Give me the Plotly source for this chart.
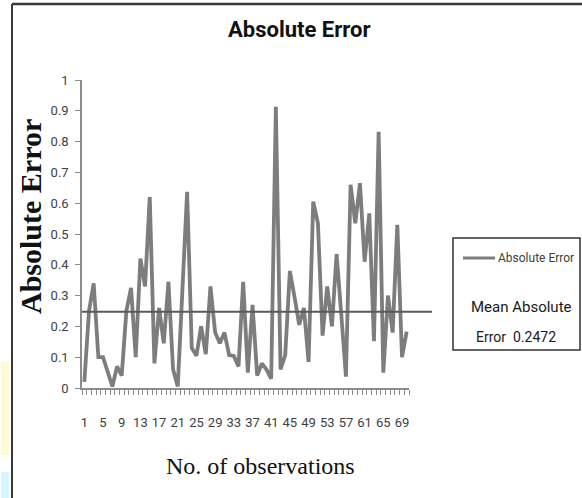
import plotly.graph_objects as go

# ---------------- data ----------------
observations = list(range(1, 71))
absolute_error = [
    0.02, 0.25, 0.34, 0.10, 0.10, 0.05, 0.005, 0.07, 0.04, 0.25,
    0.325, 0.10, 0.42, 0.33, 0.62, 0.08, 0.26, 0.145, 0.345, 0.06,
    0.005, 0.32, 0.637, 0.13, 0.105, 0.20, 0.11, 0.33, 0.18, 0.145,
    0.18, 0.107, 0.104, 0.07, 0.345, 0.05, 0.27, 0.04, 0.08, 0.06,
    0.03, 0.913, 0.06, 0.107, 0.38, 0.295, 0.205, 0.26, 0.085, 0.605,
    0.535, 0.17, 0.33, 0.20, 0.435, 0.24, 0.037, 0.66, 0.535, 0.665,
    0.41, 0.567, 0.152, 0.832, 0.05, 0.30, 0.18, 0.53, 0.10, 0.183,
]
mean_abs_error = 0.2472
x_tick_vals = [1, 5, 9, 13, 17, 21, 25, 29, 33, 37, 41, 45, 49, 53, 57, 61, 65, 69]
x_tick_text = [str(v) for v in x_tick_vals]
y_tick_vals = [0, 0.1, 0.2, 0.3, 0.4, 0.5, 0.6, 0.7, 0.8, 0.9, 1]
y_tick_text = ["0", "0.1", "0.2", "0.3", "0.4", "0.5", "0.6", "0.7", "0.8", "0.9", "1"]

# ---------------- layout geometry (pixels) ----------------
W, H = 582, 498
PL, PR, PT, PB = 82, 409, 80, 388  # plot area edges


def px(x):
    return (x - PL) / (PR - PL)


def py(y):
    return (PB - y) / (PB - PT)


GRAY_AX = "#8c8c8c"
TICK_FONT = dict(family="Roboto, Open Sans, sans-serif", size=13, color="#404040")

fig = go.Figure()
fig.add_trace(go.Scatter(
    x=observations, y=absolute_error, mode="lines",
    line=dict(color="#7d7d7d", width=3.8),
    showlegend=False, hoverinfo="x+y",
))

minor_ticks = [o - 0.5 for o in observations] + [observations[-1] + 0.5]

fig.update_layout(
    width=W, height=H,
    margin=dict(l=PL, r=W - PR, t=PT, b=H - PB, pad=0),
    paper_bgcolor="white", plot_bgcolor="white",
    showlegend=False,
    xaxis=dict(
        range=[0.5, 70.5], showgrid=False, zeroline=False,
        showline=True, linecolor=GRAY_AX, linewidth=1.5,
        tickmode="array", tickvals=x_tick_vals, ticktext=x_tick_text,
        ticks="", tickangle=0, tickfont=TICK_FONT, ticklabelstandoff=22,
        minor=dict(tickmode="array", tickvals=minor_ticks, ticks="outside",
                   ticklen=5, tickwidth=1, tickcolor=GRAY_AX, showgrid=False),
    ),
    yaxis=dict(
        range=[0, 1], showgrid=False, zeroline=False,
        showline=True, linecolor=GRAY_AX, linewidth=1.5,
        tickmode="array", tickvals=y_tick_vals, ticktext=y_tick_text,
        ticks="outside", ticklen=5, tickwidth=1, tickcolor=GRAY_AX,
        tickfont=TICK_FONT, ticklabelstandoff=4,
    ),
)

shapes = [
    # mean line
    dict(type="line", xref="paper", yref="y", x0=0, x1=px(432),
         y0=mean_abs_error, y1=mean_abs_error,
         line=dict(color="#5a5a5a", width=2)),
    # outer frame (left + top)
    dict(type="line", xref="paper", yref="paper", x0=px(12), x1=px(12),
         y0=py(498), y1=py(4), line=dict(color="#3a3a3a", width=2)),
    dict(type="line", xref="paper", yref="paper", x0=px(12), x1=px(582),
         y0=py(4), y1=py(4), line=dict(color="#3a3a3a", width=2.5)),
    # left-edge colour strips
    dict(type="rect", xref="paper", yref="paper", x0=px(1), x1=px(9),
         y0=py(455), y1=py(362), fillcolor="#FFFAD2", line=dict(width=0)),
    dict(type="rect", xref="paper", yref="paper", x0=px(1), x1=px(9),
         y0=py(498), y1=py(472), fillcolor="#D6F6FF", line=dict(width=0)),
    # legend box
    dict(type="rect", xref="paper", yref="paper", x0=px(453), x1=px(580),
         y0=py(350), y1=py(238), fillcolor="white",
         line=dict(color="#333333", width=1.5)),
    # legend sample line
    dict(type="line", xref="paper", yref="paper", x0=px(463), x1=px(495),
         y0=py(258), y1=py(258), line=dict(color="#7d7d7d", width=3)),
]
fig.update_layout(shapes=shapes)

annotations = [
    dict(text="<b>Absolute Error</b>", xref="paper", yref="paper", x=px(299), y=py(29),
         xanchor="center", yanchor="middle", showarrow=False,
         font=dict(family="Roboto, sans-serif", size=22, color="#111111")),
    dict(text="<b>Absolute Error</b>", xref="paper", yref="paper", x=px(30), y=py(217),
         xanchor="center", yanchor="middle", showarrow=False, textangle=-90,
         font=dict(family="Liberation Serif, Times New Roman, serif", size=30, color="#111111")),
    dict(text="No. of observations", xref="paper", yref="paper", x=px(260), y=py(466),
         xanchor="center", yanchor="middle", showarrow=False,
         font=dict(family="Liberation Serif, Times New Roman, serif", size=24, color="#111111")),
    dict(text="Absolute Error", xref="paper", yref="paper", x=px(496), y=py(258),
         xanchor="left", yanchor="middle", showarrow=False,
         font=dict(family="Roboto, sans-serif", size=12, color="#404040")),
    dict(text="Mean Absolute", xref="paper", yref="paper", x=px(521), y=py(307),
         xanchor="center", yanchor="middle", showarrow=False,
         font=dict(family="Roboto, sans-serif", size=15, color="#1a1a1a")),
    dict(text=f"Error  {mean_abs_error}", xref="paper", yref="paper", x=px(516), y=py(337),
         xanchor="center", yanchor="middle", showarrow=False,
         font=dict(family="Roboto, sans-serif", size=14, color="#1a1a1a")),
]
fig.update_layout(annotations=annotations)

fig.write_html("out.html")
